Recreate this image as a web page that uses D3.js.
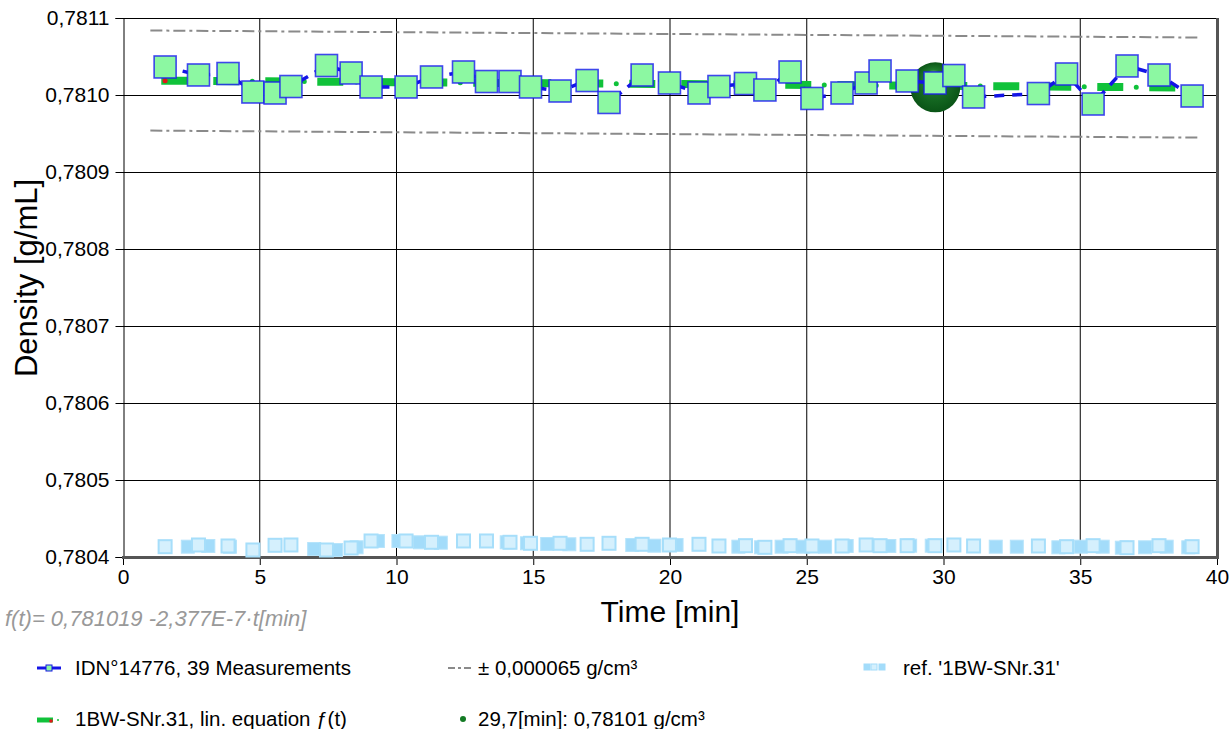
<!DOCTYPE html>
<html>
<head>
<meta charset="utf-8">
<script src="https://cdn.jsdelivr.net/npm/d3@7/dist/d3.min.js"></script>
<style>
body { margin: 0; background: #fff; }
svg { display: block; font-family: "Liberation Sans", Arial, sans-serif; }
</style>
</head>
<body>
<svg id="chart" width="1232" height="729"></svg>
<script>
'use strict'

// measurement series IDN°14776
const measT = [1.54, 2.76, 3.84, 4.75, 5.56, 6.14, 7.44, 8.34, 9.07, 10.35,
	11.28, 12.45, 13.29, 14.15, 14.90, 15.98, 16.97, 17.77, 18.98, 19.98,
	21.06, 21.79, 22.76, 23.47, 24.39, 25.19, 26.29, 27.17, 27.68, 28.67,
	29.69, 30.38, 31.10, 33.47, 34.50, 35.47, 36.71, 37.88, 39.09]
const measV = [0.7810364, 0.7810260, 0.7810279, 0.7810039, 0.7810026, 0.7810110, 0.7810383, 0.7810286, 0.7810104, 0.7810104,
	0.7810234, 0.7810299, 0.7810175, 0.7810175, 0.7810104, 0.7810052, 0.7810188, 0.7809903, 0.7810260, 0.7810156,
	0.7810026, 0.7810110, 0.7810149, 0.7810065, 0.7810299, 0.7809955, 0.7810026, 0.7810156, 0.7810312, 0.7810182,
	0.7810156, 0.7810253, 0.7809974, 0.7810019, 0.7810273, 0.7809883, 0.7810377, 0.7810260, 0.7809987]

// reference '1BW-SNr.31' (hollow ones at the measurement times)
const refHollowV = [0.7804134, 0.7804156, 0.7804143, 0.7804091, 0.7804152, 0.7804156, 0.7804091, 0.7804117, 0.7804208, 0.7804208,
	0.7804191, 0.7804208, 0.7804208, 0.7804191, 0.7804178, 0.7804178, 0.7804165, 0.7804178, 0.7804165, 0.7804156,
	0.7804165, 0.7804143, 0.7804147, 0.7804126, 0.7804147, 0.7804143, 0.7804143, 0.7804156, 0.7804147, 0.7804147,
	0.7804147, 0.7804156, 0.7804143, 0.7804143, 0.7804134, 0.7804147, 0.7804121, 0.7804147, 0.7804134]
const refFilledT = [2.37, 3.12, 3.91, 6.99, 7.79, 8.54, 9.32, 10.07, 10.86, 11.62,
	14.03, 14.77, 15.51, 16.32, 18.62, 19.43, 20.24, 22.50, 23.33, 24.08,
	24.87, 25.67, 26.46, 28.02, 28.78, 29.57, 31.91, 32.68, 34.20, 35.02,
	35.82, 36.52, 37.37, 38.16, 38.95]
const refFilledV = [0.7804134, 0.7804143, 0.7804134, 0.7804104, 0.7804091, 0.7804126, 0.7804208, 0.7804208, 0.7804191, 0.7804186,
	0.7804191, 0.7804178, 0.7804169, 0.7804165, 0.7804156, 0.7804147, 0.7804156, 0.7804134, 0.7804126, 0.7804134,
	0.7804134, 0.7804134, 0.7804143, 0.7804143, 0.7804147, 0.7804147, 0.7804134, 0.7804134, 0.7804126, 0.7804134,
	0.7804134, 0.7804121, 0.7804126, 0.7804134, 0.7804126]

// linear equation f(t) and tolerance
const trendA = 0.781019
const trendB = -2.377e-7
const trendT = [1.4, 39.3]
const tol = 0.000065
const tolT = [1.0, 39.3]
const markT = 29.7
const markV = 0.78101

const xTicks = [0, 5, 10, 15, 20, 25, 30, 35, 40]
const yTicks = [0.7804, 0.7805, 0.7806, 0.7807, 0.7808, 0.7809, 0.7810, 0.7811]

const legendItems = ['IDN°14776, 39 Measurements', '± 0,000065 g/cm³', 'ref. \'1BW-SNr.31\'',
	'1BW-SNr.31, lin. equation ƒ(t)', '29,7[min]: 0,78101 g/cm³']

const svg = d3.select('#chart')
const x = d3.scaleLinear().domain([0, 40]).range([123, 1217])
const y = d3.scaleLinear().domain([0.7804, 0.7811]).range([557, 18])
const comma = v => d3.format('.4f')(v).replace('.', ',')

let defs = svg.append('defs')
let grad = defs.append('radialGradient').attr('id', 'ball')
	.attr('cx', '50%').attr('cy', '50%').attr('r', '50%').attr('fx', '45%').attr('fy', '22%')
grad.append('stop').attr('offset', '0%').attr('stop-color', '#6cba74')
grad.append('stop').attr('offset', '35%').attr('stop-color', '#1e7a2c')
grad.append('stop').attr('offset', '100%').attr('stop-color', '#0a5416')

// grid
let grid = svg.append('g')
grid.selectAll('.vg').data(xTicks.slice(1, -1)).join('line')
	.attr('x1', d => x(d)).attr('x2', d => x(d)).attr('y1', 18).attr('y2', 557)
	.attr('stroke', '#000').attr('stroke-width', 1)
grid.selectAll('.hg').data(yTicks.slice(1)).join('line')
	.attr('x1', 123).attr('x2', 1217).attr('y1', d => Math.round(y(d)) + 0.5).attr('y2', d => Math.round(y(d)) + 0.5)
	.attr('stroke', '#000').attr('stroke-width', 1)

// axes
let yAxis = svg.append('g').attr('transform', 'translate(123.5,0)')
	.call(d3.axisLeft(y).tickValues(yTicks).tickFormat(comma).tickSize(8).tickPadding(6))
let xAxis = svg.append('g').attr('transform', 'translate(0,557)')
	.call(d3.axisBottom(x).tickValues(xTicks).tickFormat(d3.format('d')).tickSize(8).tickPadding(4))
svg.selectAll('.tick text').attr('font-size', 21).attr('fill', '#000')
	.attr('font-family', '"Liberation Sans", Arial, sans-serif')
svg.selectAll('.domain').attr('stroke', '#000')
svg.selectAll('.tick line').attr('stroke', '#000')
xAxis.select('.domain').remove()

// frame right and bottom
svg.append('line').attr('x1', 1217.5).attr('x2', 1217.5).attr('y1', 18).attr('y2', 558)
	.attr('stroke', '#555').attr('stroke-width', 3)
svg.append('line').attr('x1', 122).attr('x2', 1219).attr('y1', 557.5).attr('y2', 557.5)
	.attr('stroke', '#555').attr('stroke-width', 3)

// tolerance lines
let trend = t => trendA + trendB * t
let lineGen = d3.line().x(d => x(d[0])).y(d => y(d[1]))
;[tol, -tol].forEach(function(off) {
	svg.append('path')
		.attr('d', lineGen(tolT.map(t => [t, trend(t) + off])))
		.attr('fill', 'none').attr('stroke', '#8a8a8a').attr('stroke-width', 2)
		.attr('stroke-dasharray', '12 4 3 4')
})

// reference squares
let ref = svg.append('g')
ref.selectAll('rect.f').data(refFilledT.map((t, i) => [t, refFilledV[i]])).join('rect')
	.attr('x', d => x(d[0]) - 6.5).attr('y', d => y(d[1]) - 6.5)
	.attr('width', 13).attr('height', 13)
	.attr('fill', '#a3dcfa').attr('stroke', '#b6e4fb').attr('stroke-width', 1)
ref.selectAll('rect.h').data(measT.map((t, i) => [t, refHollowV[i]])).join('rect')
	.attr('x', d => x(d[0]) - 6.5).attr('y', d => y(d[1]) - 6.5)
	.attr('width', 13).attr('height', 13)
	.attr('fill', '#d5f0fd').attr('stroke', '#a6defa').attr('stroke-width', 2)

// trend line f(t)
let trendPts = trendT.map(t => [t, trend(t)])
svg.append('path').attr('d', lineGen(trendPts))
	.attr('fill', 'none').attr('stroke', '#10c23a').attr('stroke-width', 8)
	.attr('stroke-dasharray', '26 26')
svg.append('path').attr('d', lineGen(trendPts))
	.attr('fill', 'none').attr('stroke', '#10c23a').attr('stroke-width', 5)
	.attr('stroke-linecap', 'round')
	.attr('stroke-dasharray', '0 52').attr('stroke-dashoffset', -39)
svg.append('circle').attr('cx', x(measT[0])).attr('cy', y(trend(measT[0]))).attr('r', 2.5).attr('fill', '#e01818')

// marker ball
svg.append('circle').attr('cx', x(markT)).attr('cy', y(markV)).attr('r', 25).attr('fill', 'url(#ball)')

// measurement line + squares
let meas = measT.map((t, i) => [t, measV[i]])
svg.append('path').attr('d', lineGen(meas))
	.attr('fill', 'none').attr('stroke', '#1414e6').attr('stroke-width', 3.5)
	.attr('stroke-dasharray', '10 8')
let sq = svg.append('g')
sq.selectAll('rect').data(meas).join('rect')
	.attr('x', d => x(d[0]) - 11).attr('y', d => y(d[1]) - 11)
	.attr('width', 22).attr('height', 22)
	.attr('fill', '#8cf8a2').attr('stroke', '#1a1af0').attr('stroke-width', 1.6)
	.attr('stroke-opacity', 0.8)

// titles
svg.append('text').attr('x', 670).attr('y', 622).attr('text-anchor', 'middle')
	.attr('font-size', 30).text('Time [min]')
svg.append('text').attr('transform', 'translate(37,278) rotate(-90)').attr('text-anchor', 'middle')
	.attr('font-size', 31).text('Density [g/mL]')
svg.append('text').attr('x', 5).attr('y', 626).attr('font-size', 22).attr('font-style', 'italic')
	.attr('fill', '#999').text('f(t)= 0,781019 -2,377E-7·t[min]')

// legend
let leg = svg.append('g').attr('font-size', 20.5)
let row1 = 675, row2 = 726
leg.append('line').attr('x1', 37).attr('x2', 61).attr('y1', 668).attr('y2', 668)
	.attr('stroke', '#1414e6').attr('stroke-width', 3).attr('stroke-dasharray', '9 6')
leg.append('rect').attr('x', 46).attr('y', 665).attr('width', 6).attr('height', 6)
	.attr('fill', '#8cf8a2').attr('stroke', '#1414e6').attr('stroke-width', 1)
leg.append('text').attr('x', 75).attr('y', row1).text(legendItems[0])

leg.append('line').attr('x1', 448).attr('x2', 472).attr('y1', 668).attr('y2', 668)
	.attr('stroke', '#8a8a8a').attr('stroke-width', 2).attr('stroke-dasharray', '7 3 3 3')
leg.append('text').attr('x', 478).attr('y', row1).text(legendItems[1])

;[864, 871, 879].forEach(function(px, i) {
	leg.append('rect').attr('x', px).attr('y', 664).attr('width', 6).attr('height', 6)
		.attr('fill', i === 1 ? '#d5f0fd' : '#a3dcfa').attr('stroke', '#a3dcfa').attr('stroke-width', 1)
})
leg.append('text').attr('x', 903).attr('y', row1).text(legendItems[2])

leg.append('line').attr('x1', 37).attr('x2', 53).attr('y1', 720).attr('y2', 720)
	.attr('stroke', '#10c23a').attr('stroke-width', 5)
leg.append('circle').attr('cx', 51).attr('cy', 721).attr('r', 1.8).attr('fill', '#e01818')
leg.append('circle').attr('cx', 58).attr('cy', 720).attr('r', 1).attr('fill', '#10c23a')
leg.append('text').attr('x', 75).attr('y', row2).text(legendItems[3])

leg.append('circle').attr('cx', 463).attr('cy', 719).attr('r', 3).attr('fill', '#137a24')
leg.append('text').attr('x', 478).attr('y', row2).text(legendItems[4])
</script>
</body>
</html>
